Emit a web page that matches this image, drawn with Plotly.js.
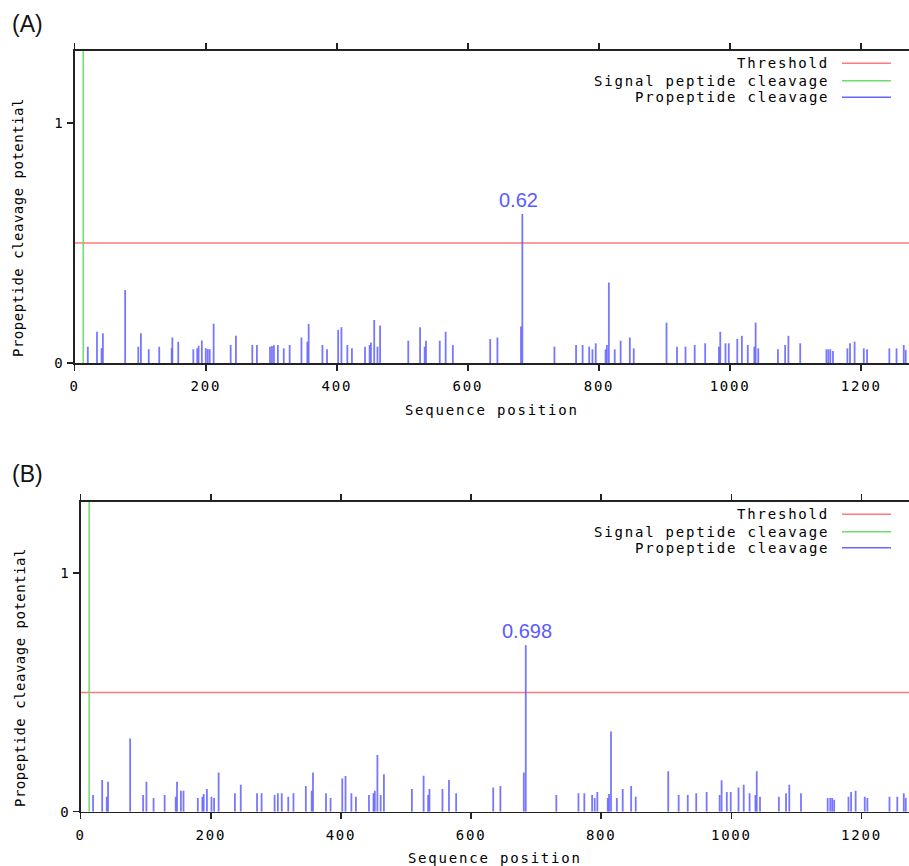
<!DOCTYPE html>
<html>
<head>
<meta charset="utf-8">
<script src="https://cdn.plot.ly/plotly-3.0.1.min.js"></script>
<style>
  html, body { margin: 0; padding: 0; background: #fff; }
  #chart { width: 909px; height: 866px; }
  .xtick text, .x2tick text, .ytick text, .y2tick text,
  .xtitle, .x2title { letter-spacing: 1.8px; }
</style>
</head>
<body>
<div id="chart"></div>
<script>
// ---------- DATA ----------
const seqLength = 1273;
const threshold = 0.5;
const signalCleavageA = 13;
const signalCleavageB = 13;
const xTickVals = [0, 200, 400, 600, 800, 1000, 1200];
const yTickVals = [0, 1];
const panelLabels = ["(A)", "(B)"];
const xTitle = "Sequence position";
const yTitle = "Propeptide cleavage potential";
const legendNames = ["Threshold", "Signal peptide cleavage", "Propeptide cleavage"];

// Panel A: propeptide cleavage positions and potentials
const posA = [20, 34, 41, 43, 77, 97, 101, 113, 129, 148, 149, 158, 181, 187, 189, 194, 200, 203, 206, 212,
  238, 246, 271, 278, 298, 301, 304, 310, 319, 328, 346, 355, 357, 378, 385, 402, 407, 416, 423, 443,
  450, 452, 457, 462, 466, 509, 527, 534, 536, 557, 566, 577, 634, 645, 681, 683, 732, 765, 775, 785,
  790, 795, 810, 812, 815, 824, 833, 847, 853, 903, 919, 932, 946, 962, 983, 985, 993, 998, 1011, 1018,
  1027, 1037, 1039, 1043, 1073, 1084, 1089, 1107, 1147, 1150, 1153, 1157, 1179, 1183, 1190, 1204, 1209,
  1243, 1254, 1265, 1268];
const valA = [0.068, 0.13, 0.061, 0.124, 0.304, 0.068, 0.124, 0.057, 0.068, 0.061, 0.106, 0.088, 0.057, 0.061, 0.072, 0.094, 0.061, 0.058, 0.057, 0.163,
  0.075, 0.113, 0.075, 0.075, 0.068, 0.071, 0.074, 0.075, 0.061, 0.075, 0.106, 0.089, 0.163, 0.075, 0.057, 0.138, 0.149, 0.075, 0.061, 0.068,
  0.075, 0.085, 0.179, 0.068, 0.156, 0.093, 0.149, 0.068, 0.093, 0.093, 0.13, 0.075, 0.1, 0.106, 0.152, 0.62, 0.068, 0.075, 0.075, 0.068,
  0.057, 0.082, 0.057, 0.075, 0.335, 0.057, 0.093, 0.106, 0.061, 0.168, 0.068, 0.068, 0.075, 0.082, 0.068, 0.13, 0.082, 0.082, 0.1, 0.113,
  0.075, 0.068, 0.168, 0.061, 0.057, 0.075, 0.113, 0.082, 0.057, 0.057, 0.057, 0.05, 0.061, 0.082, 0.089, 0.061, 0.057,
  0.061, 0.061, 0.075, 0.054];

// Panel B: propeptide cleavage positions and potentials
const posB = [19, 33, 40, 42, 76, 96, 101, 112, 129, 146, 148, 154, 158, 180, 187, 189, 194, 201, 205, 212,
  237, 246, 271, 278, 298, 303, 309, 319, 327, 346, 355, 357, 377, 384, 402, 407, 416, 423, 443, 450,
  452, 456, 461, 466, 509, 527, 534, 536, 556, 566, 577, 634, 645, 681, 684, 731, 765, 774, 786, 790,
  794, 810, 812, 815, 824, 833, 846, 853, 903, 919, 933, 946, 962, 982, 985, 993, 999, 1011, 1019, 1028,
  1037, 1039, 1044, 1073, 1084, 1089, 1107, 1148, 1152, 1155, 1158, 1180, 1184, 1191, 1205, 1209,
  1243, 1255, 1265, 1268];
const valB = [0.07, 0.133, 0.063, 0.126, 0.307, 0.07, 0.126, 0.057, 0.07, 0.063, 0.126, 0.088, 0.088, 0.057, 0.063, 0.074, 0.095, 0.063, 0.057, 0.164,
  0.077, 0.113, 0.077, 0.077, 0.07, 0.077, 0.077, 0.063, 0.077, 0.108, 0.088, 0.164, 0.077, 0.057, 0.139, 0.15, 0.077, 0.063, 0.07, 0.077,
  0.088, 0.238, 0.07, 0.157, 0.095, 0.151, 0.07, 0.095, 0.095, 0.133, 0.077, 0.101, 0.108, 0.164, 0.698, 0.07, 0.077, 0.077, 0.07, 0.057,
  0.083, 0.057, 0.074, 0.336, 0.057, 0.095, 0.108, 0.063, 0.169, 0.07, 0.07, 0.077, 0.083, 0.07, 0.132, 0.083, 0.083, 0.101, 0.113, 0.077,
  0.07, 0.169, 0.063, 0.063, 0.077, 0.113, 0.077, 0.057, 0.057, 0.057, 0.05, 0.063, 0.083, 0.088, 0.063, 0.057,
  0.063, 0.063, 0.077, 0.057];

// ---------- STYLE ----------
const W = 909, H = 866;
const yMax = 1.3;
const monoFont = { family: "DejaVu Sans Mono, monospace", size: 14, color: "#000" };
const blue = "rgba(95,95,255,0.85)";
const red = "#ff7a7a";
const green = "#6fdc6f";
const axisColor = "#222";

function stems(pos, val) {
  const x = [], y = [];
  pos.forEach((p, i) => { x.push(p, p, null); y.push(0, val[i], null); });
  return { x, y };
}

function panelTraces(pos, val, sig, xa, ya) {
  const s = stems(pos, val);
  return [
    { type: "scatter", mode: "lines", x: [0, seqLength], y: [threshold, threshold],
      xaxis: xa, yaxis: ya, line: { color: red, width: 1.5 }, hoverinfo: "skip", showlegend: false },
    { type: "scatter", mode: "lines", x: [sig, sig], y: [0, yMax],
      xaxis: xa, yaxis: ya, line: { color: green, width: 1.5 }, hoverinfo: "skip", showlegend: false },
    { type: "scatter", mode: "lines", x: s.x, y: s.y, connectgaps: false,
      xaxis: xa, yaxis: ya, line: { color: blue, width: 1.8 }, hoverinfo: "skip", showlegend: false }
  ];
}

const data = [
  ...panelTraces(posA, valA, signalCleavageA, "x", "y"),
  ...panelTraces(posB, valB, signalCleavageB, "x2", "y2")
];

function xAxis(domain, anchor) {
  return {
    domain, anchor, range: [0, seqLength], tickvals: xTickVals,
    ticks: "outside", ticklen: 6, tickwidth: 1.5, tickcolor: axisColor,
    ticklabelstandoff: 4,
    showline: true, linecolor: axisColor, linewidth: 1.5, mirror: "ticks",
    showgrid: false, zeroline: false, tickfont: monoFont,
    title: { text: xTitle, font: monoFont, standoff: 12 }
  };
}
function yAxis(domain, anchor) {
  return {
    domain, anchor, range: [0, yMax], tickvals: yTickVals,
    ticks: "outside", ticklen: 6, tickwidth: 1.5, tickcolor: axisColor,
    showline: true, linecolor: axisColor, linewidth: 1.5, mirror: "ticks",
    showgrid: false, zeroline: false, tickfont: monoFont
  };
}

// legend rows (pixel y of each row) for both panels
const legendRowsA = [63.3, 80.7, 97.3];
const legendRowsB = [514.3, 531.7, 547.7];
const legendColors = [red, green, "#6666ff"];

const annotations = [];
const shapes = [];
[legendRowsA, legendRowsB].forEach(rows => {
  rows.forEach((py, i) => {
    annotations.push({
      xref: "paper", yref: "paper", x: 831 / W, y: 1 - py / H,
      xanchor: "right", yanchor: "middle", showarrow: false,
      text: '<span style="letter-spacing:1.8px">' + legendNames[i] + '</span>',
      font: monoFont
    });
    shapes.push({
      type: "line", xref: "paper", yref: "paper",
      x0: 842 / W, x1: 891 / W, y0: 1 - py / H, y1: 1 - py / H,
      line: { color: legendColors[i], width: 1.5 }
    });
  });
});

// y-axis titles (placed as rotated text, as in the original figure)
[[18, 228], [20, 678]].forEach(([px, py]) => {
  annotations.push({
    xref: "paper", yref: "paper", x: px / W, y: 1 - py / H,
    xanchor: "center", yanchor: "middle", textangle: -90, showarrow: false,
    text: '<span style="letter-spacing:0.5px">' + yTitle + '</span>', font: monoFont
  });
});

// panel labels
annotations.push({ xref: "paper", yref: "paper", x: 10 / W, y: 1 - 24 / H, xanchor: "left", yanchor: "middle",
  showarrow: false, text: panelLabels[0], font: { family: "Liberation Sans, Arial, sans-serif", size: 23, color: "#111" } });
annotations.push({ xref: "paper", yref: "paper", x: 10 / W, y: 1 - 474 / H, xanchor: "left", yanchor: "middle",
  showarrow: false, text: panelLabels[1], font: { family: "Liberation Sans, Arial, sans-serif", size: 23, color: "#111" } });

// peak value labels
function peakAnn(pos, val, xa, ya, xshift) {
  let k = 0;
  val.forEach((v, i) => { if (v > val[k]) k = i; });
  return { xref: xa, yref: ya, x: pos[k], y: val[k], text: String(val[k]),
    showarrow: false, xanchor: "center", yanchor: "bottom", yshift: 1, xshift,
    font: { family: "Liberation Sans, Arial, sans-serif", size: 20, color: "#5a5aff" } };
}
annotations.push(peakAnn(posA, valA, "x", "y", -4));
annotations.push(peakAnn(posB, valB, "x2", "y2", 1));

const layout = {
  width: W, height: H,
  margin: { l: 0, r: 0, t: 0, b: 0 },
  paper_bgcolor: "#fff", plot_bgcolor: "#fff",
  showlegend: false,
  xaxis: xAxis([74.7 / W, 1], "y"),
  yaxis: yAxis([1 - 363 / H, 1 - 50.7 / H], "x"),
  xaxis2: xAxis([80.7 / W, 1], "y2"),
  yaxis2: yAxis([1 - 811.7 / H, 1 - 501.5 / H], "x2"),
  annotations, shapes
};

Plotly.newPlot("chart", data, layout, { staticPlot: true, displayModeBar: false });
</script>
</body>
</html>
